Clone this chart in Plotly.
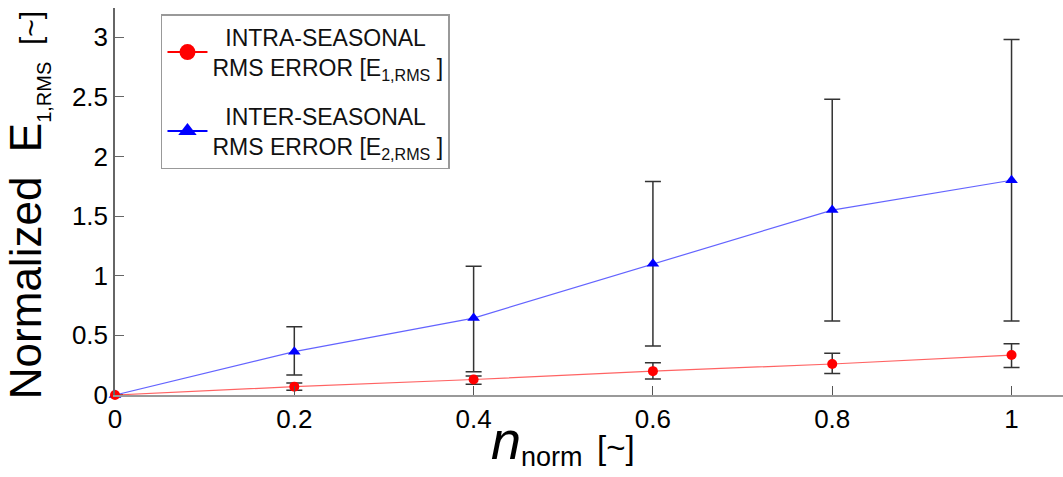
import plotly.graph_objects as go

n_norm = [0, 0.2, 0.4, 0.6, 0.8, 1.0]

intra_mean = [0.0, 0.07, 0.13, 0.20, 0.26, 0.335]
intra_upper = [0.0, 0.10, 0.16, 0.27, 0.35, 0.43]
intra_lower = [0.0, 0.04, 0.09, 0.135, 0.18, 0.23]

inter_mean = [0.0, 0.363, 0.645, 1.10, 1.55, 1.80]
inter_upper = [0.0, 0.573, 1.08, 1.79, 2.48, 2.98]
inter_lower = [0.0, 0.167, 0.195, 0.41, 0.62, 0.62]

x_ticks = [0, 0.2, 0.4, 0.6, 0.8, 1]
x_ticklabels = ["0", "0.2", "0.4", "0.6", "0.8", "1"]
y_ticks = [0, 0.5, 1, 1.5, 2, 2.5, 3]
y_ticklabels = ["0", "0.5", "1", "1.5", "2", "2.5", "3"]

label_intra = "\u00a0\u00a0INTRA-SEASONAL<br>RMS ERROR [E<sub>1,RMS</sub> ]"
label_inter = "\u00a0\u00a0INTER-SEASONAL<br>RMS ERROR [E<sub>2,RMS</sub> ]"

RED = "rgb(255,0,0)"
RED_LINE = "rgba(255,60,60,0.8)"
BLUE = "rgb(0,0,255)"
BLUE_LINE = "rgba(60,60,255,0.8)"
ERR = "#333333"

fig = go.Figure()

fig.add_trace(go.Scatter(
    x=n_norm, y=inter_mean, mode="lines+markers",
    line=dict(color=BLUE_LINE, width=1.2),
    marker=dict(symbol="triangle-up", size=11, color=BLUE),
    error_y=dict(type="data", symmetric=False,
                 array=[u - m for u, m in zip(inter_upper, inter_mean)],
                 arrayminus=[m - l for m, l in zip(inter_mean, inter_lower)],
                 color=ERR, thickness=1.5, width=8),
    showlegend=False, cliponaxis=False))

fig.add_trace(go.Scatter(
    x=n_norm, y=intra_mean, mode="lines+markers",
    line=dict(color=RED_LINE, width=1.2),
    marker=dict(symbol="circle", size=10, color=RED),
    error_y=dict(type="data", symmetric=False,
                 array=[u - m for u, m in zip(intra_upper, intra_mean)],
                 arrayminus=[m - l for m, l in zip(intra_mean, intra_lower)],
                 color=ERR, thickness=1.5, width=8),
    showlegend=False, cliponaxis=False))

# legend-only entries (larger symbols, as in the reference legend)
fig.add_trace(go.Scatter(
    x=[None], y=[None], mode="lines+markers", name=label_intra,
    legendgroup="a",
    line=dict(color=RED, width=2),
    marker=dict(symbol="circle", size=21, color=RED)))
fig.add_trace(go.Scatter(
    x=[None], y=[None], mode="lines+markers", name=label_inter,
    legendgroup="b",
    line=dict(color=BLUE, width=2),
    marker=dict(symbol="triangle-up", size=21, color=BLUE)))

fig.update_layout(
    width=1063, height=477,
    margin=dict(l=115, r=0, t=8, b=82),
    paper_bgcolor="white", plot_bgcolor="white",
    font=dict(family="Liberation Sans, Arial, sans-serif", color="black"),
    legend=dict(
        x=0.0485, y=0.984, xanchor="left", yanchor="top",
        bgcolor="white", bordercolor="#999999", borderwidth=1.5,
        font=dict(size=23, color="#111111"),
        traceorder="grouped", tracegroupgap=16, itemwidth=40,
    ),
    xaxis=dict(
        range=[0, 1.0574], tickvals=x_ticks, ticktext=x_ticklabels,
        showgrid=False, zeroline=False, showline=True,
        linecolor="#999999", linewidth=1.5,
        ticks="inside", ticklen=9, tickcolor="#555555", tickwidth=1.2,
        tickfont=dict(size=26), fixedrange=True,
    ),
    yaxis=dict(
        range=[0, 3.244], tickvals=y_ticks, ticktext=y_ticklabels,
        showgrid=False, zeroline=False, showline=True,
        linecolor="#666666", linewidth=1.5,
        ticks="inside", ticklen=9, tickcolor="#666666", tickwidth=1.2,
        tickfont=dict(size=26), fixedrange=True,
    ),
    annotations=[
        dict(
            text=('<span style="font-size:44px">Normalized  E</span>'
                  '<sub><span style="font-size:20px">1,RMS</span></sub>'
                  '<span style="font-size:30px">  [~]</span>'),
            xref="paper", yref="paper",
            x=-0.092, y=0.49, xanchor="center", yanchor="middle",
            textangle=-90, showarrow=False, font=dict(size=44),
        ),
        dict(
            text=('<span style="font-size:54px"><i>n</i></span>'
                  '<sub><span style="font-size:27px">norm</span></sub>'
                  '<span style="font-size:26px">\u00a0\u00a0</span>'
                  '<span style="font-size:33px">[~]</span>'),
            xref="paper", yref="paper",
            x=(563 - 115) / 948, y=-0.205, xanchor="center", yanchor="bottom",
            showarrow=False, font=dict(size=33),
        ),
    ],
)

fig.write_html("out.html")
